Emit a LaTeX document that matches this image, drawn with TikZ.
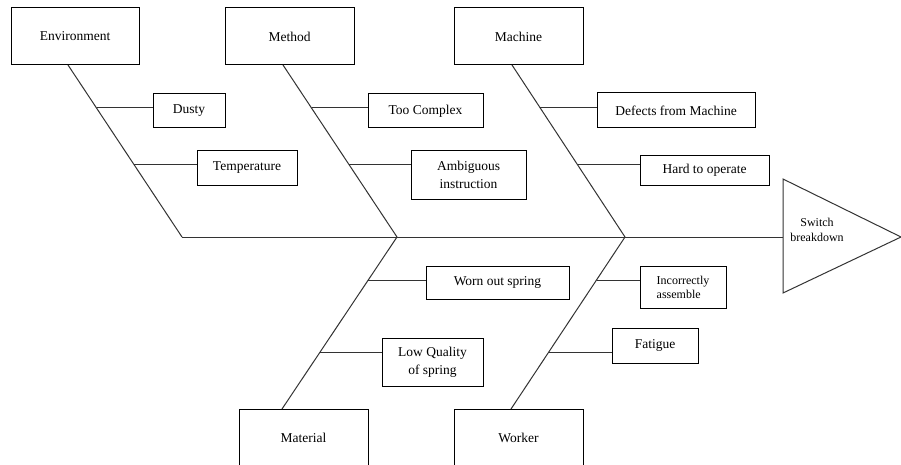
\documentclass[tikz,border=0pt]{standalone}
\usepackage{fontspec}
\setmainfont{Liberation Serif}
\usetikzlibrary{calc}
\begin{document}
\begin{tikzpicture}[x=1pt,y=-1pt,
  ln/.style={line width=1pt,draw=black!80},
  bx/.style={draw=black,line width=1pt,inner sep=0pt,align=center,
    font=\fontsize{13.5}{18}\selectfont},
  sbx/.style={bx,font=\fontsize{12}{14}\selectfont}]
\clip (0,0) rectangle (901,465);
\fill[white] (0,0) rectangle (901,465);
% category boxes
\node[bx,minimum width=128,minimum height=57] (env) at (75,36.5) {Environment};
\node[bx,minimum width=129,minimum height=57] (meth) at (289.5,36.5) {Method};
\node[bx,minimum width=129,minimum height=57] (mach) at (518.5,36.5) {Machine};
\node[bx,minimum width=129,minimum height=57] (mat) at (303.5,437.5) {Material};
\node[bx,minimum width=129,minimum height=57] (work) at (518.5,437.5) {Worker};
% cause boxes
\node[bx,minimum width=72,minimum height=34] (dusty) at (189,111) {Dusty};
\node[bx,minimum width=100,minimum height=34] (temp) at (247,168) {Temperature};
\node[bx,minimum width=115,minimum height=34] (cplx) at (425.5,111) {Too Complex};
\node[bx,minimum width=115,minimum height=48] (amb) at (468.5,175) {Ambiguous\\instruction};
\node[bx,minimum width=158,minimum height=35] (def) at (676,110.5) {Defects from Machine};
\node[bx,minimum width=129,minimum height=29] (hard) at (704.5,170.5) {Hard to operate};
\node[bx,minimum width=143,minimum height=33] (worn) at (497.5,282.5) {Worn out spring};
\node[bx,minimum width=101,minimum height=48] (lowq) at (432.5,362) {Low Quality\\of spring};
\node[sbx,minimum width=86,minimum height=42,align=left] (inc) at (683,287) {Incorrectly\\assemble};
\node[bx,minimum width=86,minimum height=35] (fat) at (655,345.5) {Fatigue};
% spine and head
\coordinate (j1) at (182,237);
\coordinate (j2) at (397,237);
\coordinate (j3) at (625,237);
\coordinate (head) at (783,237);
\draw[ln] (783,179) -- (901,237) -- (783,293) -- cycle;
\node[font=\fontsize{12}{15}\selectfont,align=center] (eff) at (817,230) {Switch\\breakdown};
\draw[ln] (j1) -- (head);
% diagonal tops
\coordinate (e0) at (68,65);
\coordinate (m0) at (283,65);
\coordinate (c0) at (512,65);
\coordinate (t0) at (282,409);
\coordinate (w0) at (511,409);
\draw[ln] (e0) -- (j1);
\draw[ln] (m0) -- (j2);
\draw[ln] (c0) -- (j3);
\draw[ln] (j2) -- (t0);
\draw[ln] (j3) -- (w0);
% branches
\coordinate (p1) at ($(e0)!0.25!(j1)$);
\coordinate (p2) at ($(e0)!0.581!(j1)$);
\coordinate (p3) at ($(m0)!0.25!(j2)$);
\coordinate (p4) at ($(m0)!0.581!(j2)$);
\coordinate (p5) at ($(c0)!0.25!(j3)$);
\coordinate (p6) at ($(c0)!0.581!(j3)$);
\coordinate (p7) at ($(j2)!0.25!(t0)$);
\coordinate (p8) at ($(j2)!0.669!(t0)$);
\coordinate (p9) at ($(j3)!0.25!(w0)$);
\coordinate (p10) at ($(j3)!0.669!(w0)$);
\draw[ln] (p1) -- (p1 -| dusty.west);
\draw[ln] (p2) -- (p2 -| temp.west);
\draw[ln] (p3) -- (p3 -| cplx.west);
\draw[ln] (p4) -- (p4 -| amb.west);
\draw[ln] (p5) -- (p5 -| def.west);
\draw[ln] (p6) -- (p6 -| hard.west);
\draw[ln] (p7) -- (p7 -| worn.west);
\draw[ln] (p8) -- (p8 -| lowq.west);
\draw[ln] (p9) -- (p9 -| inc.west);
\draw[ln] (p10) -- (p10 -| fat.west);
\end{tikzpicture}
\end{document}
